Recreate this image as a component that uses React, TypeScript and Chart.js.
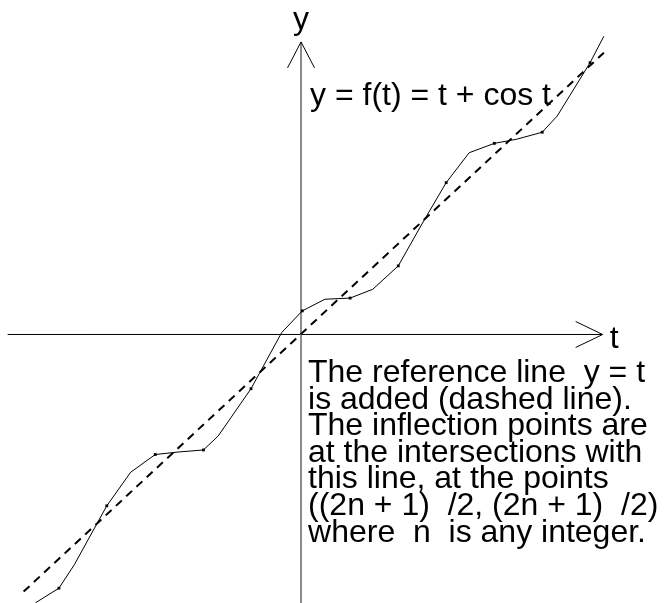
import { useEffect, useRef } from "react";
import { Chart, registerables } from "chart.js";

Chart.register(...registerables);

// Polyline vertices of f(t) = t + cos t (every other vertex carries a dot)
const tValues = [
  -8.65, -7.89, -7.39, -6.33, -5.55, -4.75, -3.98, -3.18, -2.70, -1.63, -0.63, 0.04, 0.78,
  1.60, 2.34, 3.17, 3.94, 4.73, 5.48, 6.30, 7.01, 7.86, 8.35, 9.42, 9.87,
];
const fValues = [
  -9.43, -8.92, -8.10, -6.03, -4.85, -4.23, -4.14, -4.07, -3.58, -1.92, 0.05, 0.81, 1.22,
  1.26, 1.57, 2.39, 3.86, 5.31, 6.36, 6.69, 6.83, 7.08, 7.65, 9.52, 10.45,
];

// Reference line y = t, drawn between these t values
const refT = [-9.04, 9.87];

// Visible window of the plane
const tRange = [-9.81, 12.09];
const yRange = [-9.44, 11.72];

// Extents of the drawn axes
const tAxisExtent = [-9.56, 9.83];
const yAxisExtent = [-9.5, 10.25];

const titleText = "y = f(t) = t + cos t";
const noteLines = [
  "The reference line  y = t",
  "is added (dashed line).",
  "The inflection points are",
  "at the intersections with",
  "this line, at the points",
  "((2n + 1)  /2, (2n + 1)  /2)",
  "where  n  is any integer.",
];

const FONT = '32px "Liberation Sans", Arial, sans-serif';

const axesPlugin = {
  id: "axesAndNotes",
  beforeDatasetsDraw(chart: any) {
    const { ctx, scales } = chart;
    const xs = scales.x;
    const ys = scales.y;
    const x0 = xs.getPixelForValue(0);
    const y0 = ys.getPixelForValue(0);
    ctx.save();

    // horizontal t axis with open arrowhead
    const tStart = xs.getPixelForValue(tAxisExtent[0]);
    const tEnd = xs.getPixelForValue(tAxisExtent[1]);
    ctx.strokeStyle = "#000";
    ctx.lineWidth = 1;
    ctx.beginPath();
    ctx.moveTo(tStart, y0 + 0.5);
    ctx.lineTo(tEnd, y0 + 0.5);
    ctx.moveTo(tEnd - 27, y0 - 12.5);
    ctx.lineTo(tEnd, y0 + 0.5);
    ctx.lineTo(tEnd - 27, y0 + 13.5);
    ctx.stroke();

    // vertical y axis (grey) with open arrowhead
    const yBottom = ys.getPixelForValue(yAxisExtent[0]);
    const yTop = ys.getPixelForValue(yAxisExtent[1]);
    ctx.strokeStyle = "#8c8c8c";
    ctx.lineWidth = 2;
    ctx.beginPath();
    ctx.moveTo(x0, yBottom);
    ctx.lineTo(x0, yTop);
    ctx.stroke();
    ctx.strokeStyle = "#000";
    ctx.lineWidth = 1;
    ctx.beginPath();
    ctx.moveTo(x0 - 13.5, yTop + 26);
    ctx.lineTo(x0, yTop);
    ctx.lineTo(x0 + 13.5, yTop + 26);
    ctx.stroke();
    ctx.restore();
  },
  afterDraw(chart: any) {
    const { ctx, scales } = chart;
    const x0 = scales.x.getPixelForValue(0);
    const y0 = scales.y.getPixelForValue(0);
    const tEnd = scales.x.getPixelForValue(tAxisExtent[1]);
    const yTop = scales.y.getPixelForValue(yAxisExtent[1]);
    ctx.save();
    ctx.fillStyle = "#000";
    ctx.font = FONT;
    ctx.textBaseline = "alphabetic";

    // axis names
    ctx.textAlign = "center";
    ctx.fillText("y", x0, yTop - 13);
    ctx.textAlign = "left";
    ctx.fillText("t", tEnd + 7, y0 + 14);

    // formula
    ctx.fillText(titleText, x0 + 9, 105);

    // explanatory notes
    noteLines.forEach((line, i) => {
      ctx.fillText(line, x0 + 7, y0 + 48 + i * 26.6);
    });
    ctx.restore();
  },
};

export default function App() {
  const canvasRef = useRef<HTMLCanvasElement | null>(null);

  useEffect(() => {
    if (!canvasRef.current) return;
    const curve = tValues.map((t, i) => ({ x: t, y: fValues[i] }));
    const ref = refT.map((t) => ({ x: t, y: t }));
    const chart = new Chart(canvasRef.current, {
      type: "line",
      data: {
        datasets: [
          {
            data: curve,
            borderColor: "#000",
            borderWidth: 1,
            tension: 0,
            pointStyle: "rect",
            pointRadius: (c: any) => (c.dataIndex % 2 === 1 ? 2 : 0),
            pointBackgroundColor: "#000",
            pointBorderWidth: 0,
          },
          {
            data: ref,
            borderColor: "#000",
            borderWidth: 2,
            borderDash: [8, 6],
            pointRadius: 0,
          },
        ],
      },
      options: {
        responsive: false,
        maintainAspectRatio: false,
        devicePixelRatio: 1,
        animation: false,
        layout: { padding: 0 },
        plugins: { legend: { display: false }, tooltip: { enabled: false } },
        scales: {
          x: { type: "linear", min: tRange[0], max: tRange[1], display: false },
          y: { type: "linear", min: yRange[0], max: yRange[1], display: false },
        },
      },
      plugins: [axesPlugin],
    });
    return () => chart.destroy();
  }, []);

  return (
    <div style={{ position: "fixed", left: 0, top: 0, width: 672, height: 603, background: "#fff" }}>
      <canvas ref={canvasRef} width={672} height={603} style={{ display: "block" }} />
    </div>
  );
}
